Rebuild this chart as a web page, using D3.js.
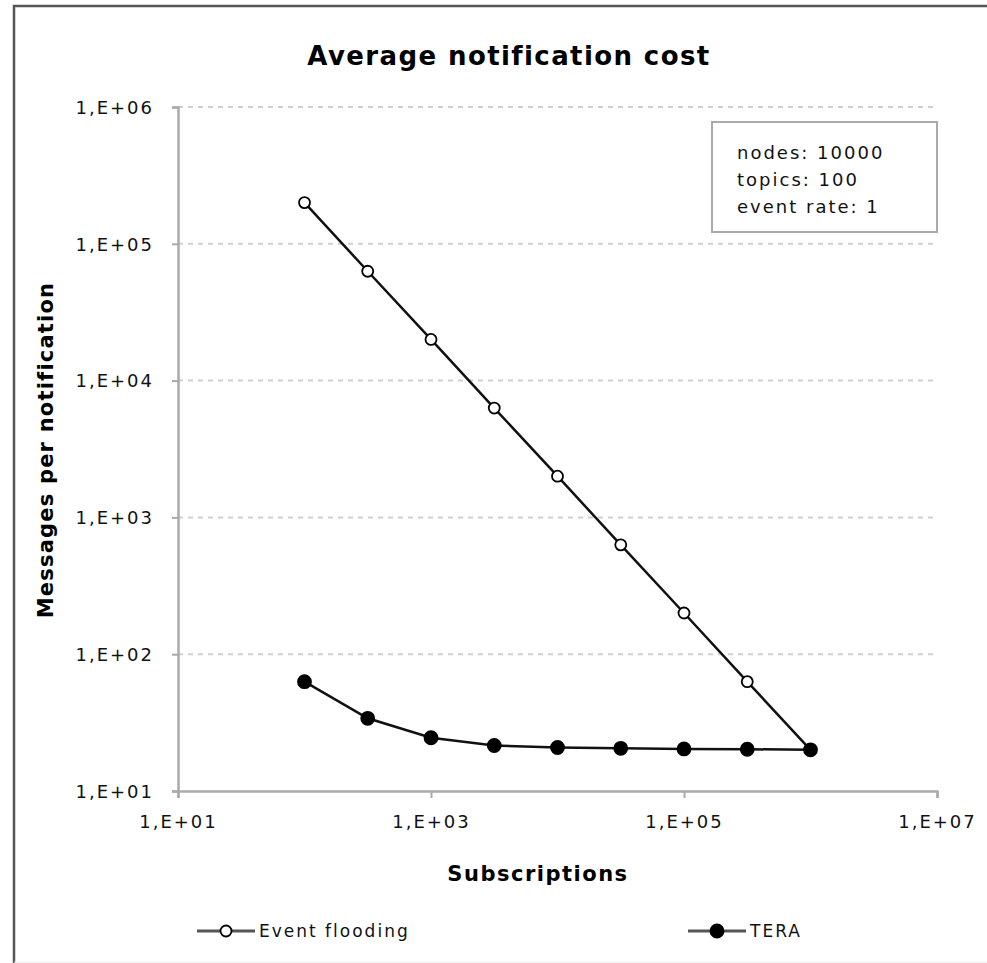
<!DOCTYPE html>
<html><head><meta charset="utf-8">
<script src="https://cdn.jsdelivr.net/npm/d3@7"></script>
<style>body{margin:0;background:#fff;}svg{display:block;}</style>
</head><body>
<script>
const subscriptions = [100, 316, 1000, 3162, 10000, 31623, 100000, 316228, 1000000];
const eventFlooding = [200000, 63000, 20000, 6300, 2000, 630, 200, 63, 20];
const tera = [63, 34, 24.5, 21.5, 20.8, 20.5, 20.3, 20.2, 20];
const xTicks = [1e1, 1e3, 1e5, 1e7];
const yTicks = [1e1, 1e2, 1e3, 1e4, 1e5, 1e6];
const infoLines = ["nodes: 10000", "topics: 100", "event rate: 1"];
const seriesNames = ["Event flooding", "TERA"];

const W = 987, H = 963;
const font = "Verdana, 'DejaVu Sans', sans-serif";
const svg = d3.select("body").append("svg").attr("width", W).attr("height", H);

// frame
svg.append("path").attr("d", `M14,${H} L14,6 L${W},6`).attr("fill","none").attr("stroke","#555").attr("stroke-width",2.5);
svg.append("line").attr("x1",14).attr("x2",W).attr("y1",962).attr("y2",962).attr("stroke","#eee").attr("stroke-width",1);

const x = d3.scaleLog().domain([1e1, 1e7]).range([178, 937]);
const y = d3.scaleLog().domain([1e1, 1e6]).range([791, 107]);
const fmt = d => "1,E+" + String(Math.round(Math.log10(d))).padStart(2, "0");

// grid
svg.append("g").selectAll("line").data(yTicks.slice(1)).join("line")
  .attr("x1", 178).attr("x2", 937).attr("y1", d => y(d)).attr("y2", d => y(d))
  .attr("stroke", "#d0d0d0").attr("stroke-width", 2).attr("stroke-dasharray", "5,5");

// axes
const ya = svg.append("g").attr("transform", "translate(178,0)")
  .call(d3.axisLeft(y).tickValues(yTicks).tickFormat(fmt).tickSize(6).tickPadding(18));
const xa = svg.append("g").attr("transform", "translate(0,791)")
  .call(d3.axisBottom(x).tickValues(xTicks).tickFormat(fmt).tickSize(7).tickPadding(24));
[ya, xa].forEach(a => {
  a.select(".domain").attr("stroke", "#aaa").attr("stroke-width", 2.5);
  a.selectAll(".tick line").attr("stroke", "#aaa").attr("stroke-width", 2);
  a.selectAll("text").attr("font-family", font).attr("font-size", 18).attr("fill", "#111")
   .attr("letter-spacing", "2px");
});
ya.selectAll("text").attr("dy", "0.35em");
xa.selectAll("text").attr("dy", "0.35em");

// title and axis titles
svg.append("text").attr("x", 509).attr("y", 65).attr("text-anchor", "middle")
  .attr("font-family", font).attr("font-weight", "bold").attr("font-size", 26)
  .attr("letter-spacing", "1.4px").text("Average notification cost");
svg.append("text").attr("x", 538).attr("y", 881).attr("text-anchor", "middle")
  .attr("font-family", font).attr("font-weight", "bold").attr("font-size", 21)
  .attr("letter-spacing", "1.5px").text("Subscriptions");
svg.append("text").attr("transform", "translate(53,450) rotate(-90)").attr("text-anchor", "middle")
  .attr("font-family", font).attr("font-weight", "bold").attr("font-size", 21)
  .attr("letter-spacing", "1.2px").text("Messages per notification");

// series
const line = d3.line().x(d => x(d[0])).y(d => y(d[1]));
const series = [
  {name: seriesNames[0], vals: eventFlooding, fill: "#fff"},
  {name: seriesNames[1], vals: tera, fill: "#000"}
];
series.forEach(s => {
  const pts = subscriptions.map((v, i) => [v, s.vals[i]]);
  svg.append("path").attr("d", line(pts)).attr("fill", "none").attr("stroke", "#111").attr("stroke-width", 2.5);
  svg.append("g").selectAll("circle").data(pts).join("circle")
    .attr("cx", d => x(d[0])).attr("cy", d => y(d[1])).attr("r", s.fill === "#fff" ? 5.5 : 6.5)
    .attr("fill", s.fill).attr("stroke", "#000").attr("stroke-width", 1.8);
});

// info box
svg.append("rect").attr("x", 712).attr("y", 122).attr("width", 225).attr("height", 110)
  .attr("fill", "#fff").attr("stroke", "#aaa").attr("stroke-width", 2);
svg.append("g").selectAll("text").data(infoLines).join("text")
  .attr("x", 737).attr("y", (d, i) => 159 + i * 27)
  .attr("font-family", font).attr("font-size", 18).attr("letter-spacing", "2px").attr("fill", "#111")
  .text(d => d);

// legend
const leg = [{x: 197, fill: "#fff", r: 5.5}, {x: 688, fill: "#000", r: 6.5}];
leg.forEach((l, i) => {
  const g = svg.append("g");
  g.append("line").attr("x1", l.x).attr("x2", l.x + 58).attr("y1", 931).attr("y2", 931)
    .attr("stroke", "#555").attr("stroke-width", 3);
  g.append("circle").attr("cx", l.x + 29).attr("cy", 931).attr("r", l.r)
    .attr("fill", l.fill).attr("stroke", "#000").attr("stroke-width", 1.8);
  g.append("text").attr("x", l.x + 62).attr("y", 937).attr("font-family", font).attr("font-size", 17)
    .attr("letter-spacing", "2px").attr("fill", "#111").text(series[i].name);
});
</script>
</body></html>
